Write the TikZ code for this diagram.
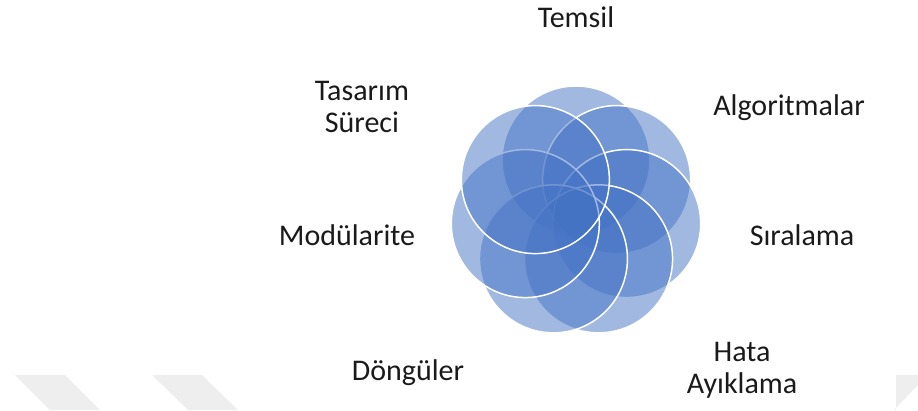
\documentclass[tikz,border=0pt]{standalone}
\usepackage{fontspec}
\setmainfont{Carlito}
\usetikzlibrary{calc}
\definecolor{ringblue}{HTML}{4472C4}
\definecolor{wmgray}{HTML}{EEEEEE}
\definecolor{labeltext}{HTML}{1A1A1A}
\tikzset{
  ring/.style={fill=ringblue, fill opacity=0.5, draw=white, draw opacity=1, line width=1.5pt},
  lbl/.style={font=\fontsize{30}{32}\selectfont, text=labeltext, inner sep=0pt, align=center},
  wm/.style={fill=wmgray, draw=none}
}
\begin{document}
\begin{tikzpicture}[x=1pt,y=-1pt]
\useasboundingbox (0,0) rectangle (918,410);
% faint watermark bands
\fill[wm] (15,375) -- (65,375) -- (100,410) -- (50,410) -- cycle;
\fill[wm] (152,375) -- (202,375) -- (238,410) -- (188,410) -- cycle;
\fill[wm] (896,375) -- (918,375) -- (918,385) -- (894,410) -- (896,410) -- cycle;
% rings
\coordinate (c) at (576,212);
\foreach \k in {0,...,6}{
  \pgfmathsetmacro{\ang}{90-\k*360/7}
  \path[ring] ($(c)+({52*cos(\ang)},{-52*sin(\ang)})$) circle[radius=74];
}
% labels
\node[lbl, anchor=base] (temsil) at (576,27) {Temsil};
\node[lbl, anchor=base] (algo) at (789,115) {Algoritmalar};
\node[lbl, anchor=base] (sira) at (802,245) {Sıralama};
\node[lbl, anchor=base] (hata) at (742,393) {Hata\\Ayıklama};
\node[lbl, anchor=base] (dongu) at (408,380) {Döngüler};
\node[lbl, anchor=base] (modul) at (347,245) {Modülarite};
\node[lbl, anchor=base] (tasarim) at (362,132) {Tasarım\\Süreci};
\end{tikzpicture}
\end{document}
